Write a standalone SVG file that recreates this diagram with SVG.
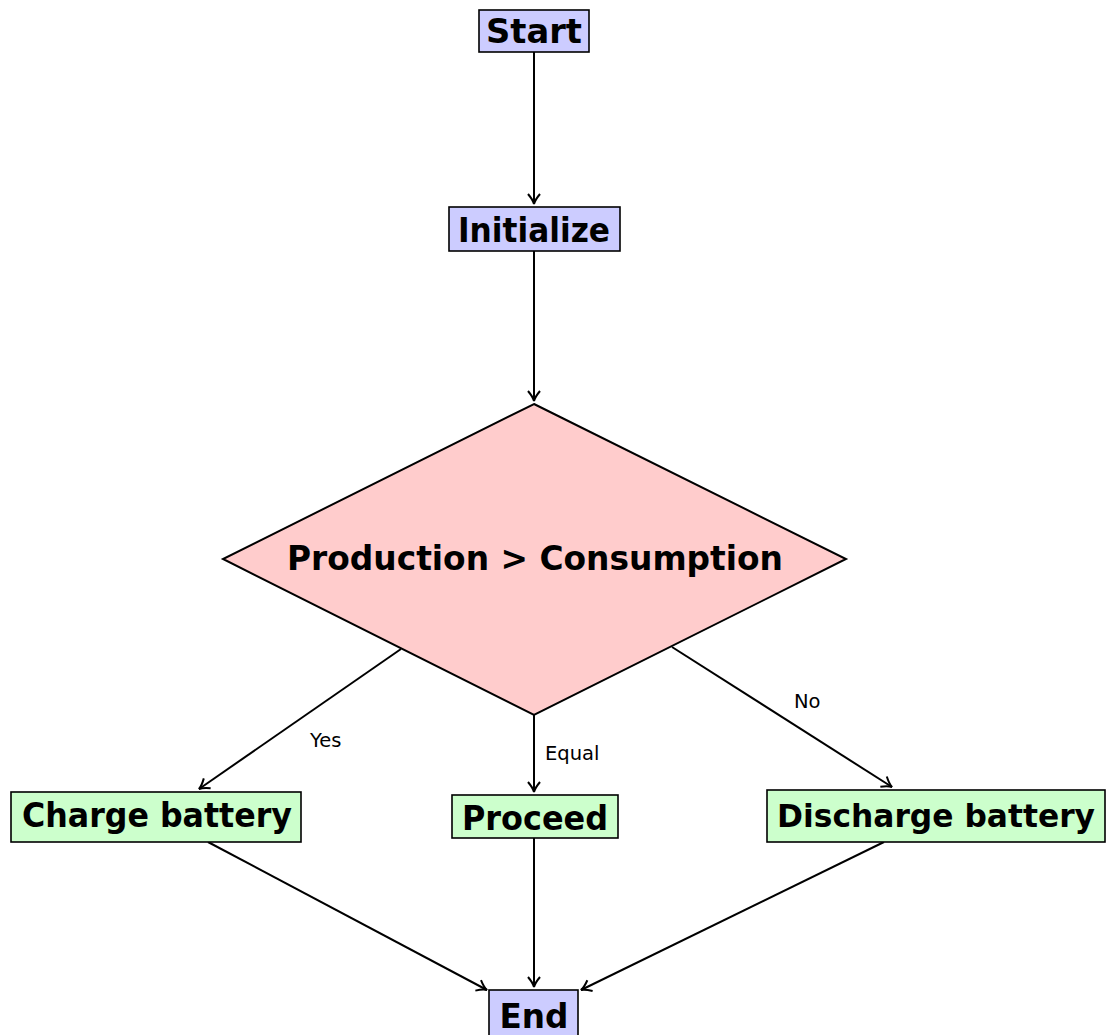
<svg xmlns="http://www.w3.org/2000/svg" width="1107" height="1035" viewBox="0 0 1107 1035">
<style>
.blue{fill:#ccccff;stroke:#000;stroke-width:1.6}
.green{fill:#ccffcc;stroke:#000;stroke-width:1.6}
.red{fill:#ffcccc;stroke:#000;stroke-width:2}
.t{font-family:"DejaVu Sans",sans-serif;font-weight:bold;font-size:33px;fill:#000;text-anchor:middle}
.l{font-family:"DejaVu Sans",sans-serif;font-size:19.5px;fill:#000}
.c{stroke:#000;stroke-width:2;fill:none;marker-end:url(#ah)}
</style>
<defs>
<marker id="ah" viewBox="-12 -8 14 16" refX="0" refY="0" markerWidth="14" markerHeight="16" markerUnits="userSpaceOnUse" orient="auto">
<path d="M-10,-6 Q-4,-1 0,0 Q-4,1 -10,6" fill="none" stroke="#000" stroke-width="2"/>
</marker>
</defs>
<g id="connectors">
<line class="c" x1="534" y1="52" x2="534" y2="204"/>
<line class="c" x1="534" y1="251" x2="534" y2="401"/>
<line class="c" x1="401" y1="649" x2="199" y2="789"/>
<line class="c" x1="534" y1="715" x2="534" y2="792"/>
<line class="c" x1="672" y1="647" x2="892" y2="787"/>
<line class="c" x1="208" y1="842" x2="487" y2="990"/>
<line class="c" x1="534" y1="838" x2="534" y2="987"/>
<line class="c" x1="884" y1="842" x2="581" y2="990"/>
<text class="l" x="310" y="747">Yes</text>
<text class="l" x="545" y="760">Equal</text>
<text class="l" x="794" y="708">No</text>
</g>
<g id="start"><rect class="blue" x="479" y="10" width="110" height="42"/><text class="t" x="534" y="43" textLength="96" lengthAdjust="spacingAndGlyphs">Start</text></g>
<g id="initialize"><rect class="blue" x="449" y="207" width="171" height="44"/><text class="t" x="534" y="242" textLength="152" lengthAdjust="spacingAndGlyphs">Initialize</text></g>
<g id="decision"><polygon class="red" points="534,404 846,559 534,715 223,559"/><text class="t" x="535" y="570" textLength="496" lengthAdjust="spacingAndGlyphs">Production &gt; Consumption</text></g>
<g id="charge"><rect class="green" x="11" y="792" width="290" height="50"/><text class="t" x="157" y="827" textLength="270" lengthAdjust="spacingAndGlyphs">Charge battery</text></g>
<g id="proceed"><rect class="green" x="452" y="795" width="166" height="43"/><text class="t" x="535" y="830" textLength="146" lengthAdjust="spacingAndGlyphs">Proceed</text></g>
<g id="discharge"><rect class="green" x="767" y="790" width="338" height="52"/><text class="t" x="936" y="827" style="font-size:32px" textLength="318" lengthAdjust="spacingAndGlyphs">Discharge battery</text></g>
<g id="end"><rect class="blue" x="489" y="990" width="89" height="50"/><text class="t" x="534" y="1028" textLength="69" lengthAdjust="spacingAndGlyphs">End</text></g>
</svg>
